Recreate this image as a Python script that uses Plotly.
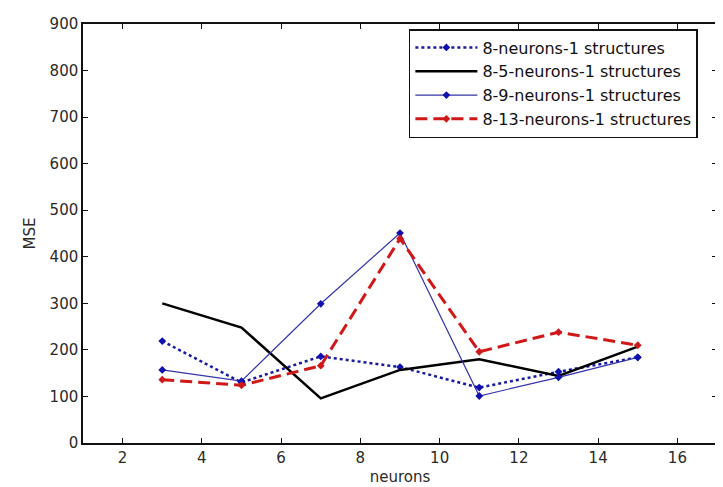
import plotly.graph_objects as go

neurons = [3, 5, 7, 9, 11, 13, 15]
mse_8_1 = [219, 130, 186, 163, 119, 153, 184]
mse_8_5_1 = [300, 248, 96, 157, 180, 144, 207]
mse_8_9_1 = [157, 133, 299, 451, 101, 141, 184]
mse_8_13_1 = [136, 124, 166, 439, 196, 238, 210]
series_names = ["8-neurons-1 structures", "8-5-neurons-1 structures",
                "8-9-neurons-1 structures", "8-13-neurons-1 structures"]
x_ticks = [2, 4, 6, 8, 10, 12, 14, 16]
y_ticks = [0, 100, 200, 300, 400, 500, 600, 700, 800, 900]

FONT = "DejaVu Sans, Liberation Sans, Arial"

fig = go.Figure()
fig.add_trace(go.Scatter(x=neurons, y=mse_8_1, name=series_names[0], mode="lines+markers",
                         line=dict(color="#1a1aa0", width=2.5, dash="dot"),
                         marker=dict(color="#1010b0", size=6, symbol="diamond")))
fig.add_trace(go.Scatter(x=neurons, y=mse_8_5_1, name=series_names[1], mode="lines",
                         line=dict(color="black", width=2.5)))
fig.add_trace(go.Scatter(x=neurons, y=mse_8_9_1, name=series_names[2], mode="lines+markers",
                         line=dict(color="#3434a8", width=1.2),
                         marker=dict(color="#1010b0", size=6, symbol="diamond")))
fig.add_trace(go.Scatter(x=neurons, y=mse_8_13_1, name=series_names[3], mode="lines+markers",
                         line=dict(color="#d01818", width=3, dash="12px,6px"),
                         marker=dict(color="#d01818", size=6, symbol="diamond")))

axis_common = dict(showline=True, linecolor="#111", linewidth=1.5, mirror="ticks",
                   ticks="inside", ticklen=5, tickcolor="#111", tickwidth=1,
                   showgrid=False, zeroline=False,
                   tickfont=dict(family=FONT, size=15, color="#2a2a2a"))

fig.update_xaxes(range=[1, 17], tickvals=x_ticks, **axis_common,
                 title=dict(text="neurons", standoff=6,
                            font=dict(family=FONT, size=15, color="#2a2a2a")))
fig.update_yaxes(range=[0, 900], tickvals=y_ticks, **axis_common,
                 title=dict(text="MSE", standoff=10,
                            font=dict(family=FONT, size=15, color="#2a2a2a")))

fig.update_layout(
    width=715, height=479,
    margin=dict(l=75, r=4, t=16, b=43),
    paper_bgcolor="white", plot_bgcolor="white",
    showlegend=True,
    legend=dict(x=0.514, y=0.988, xanchor="left", yanchor="top",
                bordercolor="#111", borderwidth=1.5, bgcolor="white",
                font=dict(family=FONT, size=16, color="#111"),
                tracegroupgap=0, itemwidth=62),
)

fig.write_html("out.html")
